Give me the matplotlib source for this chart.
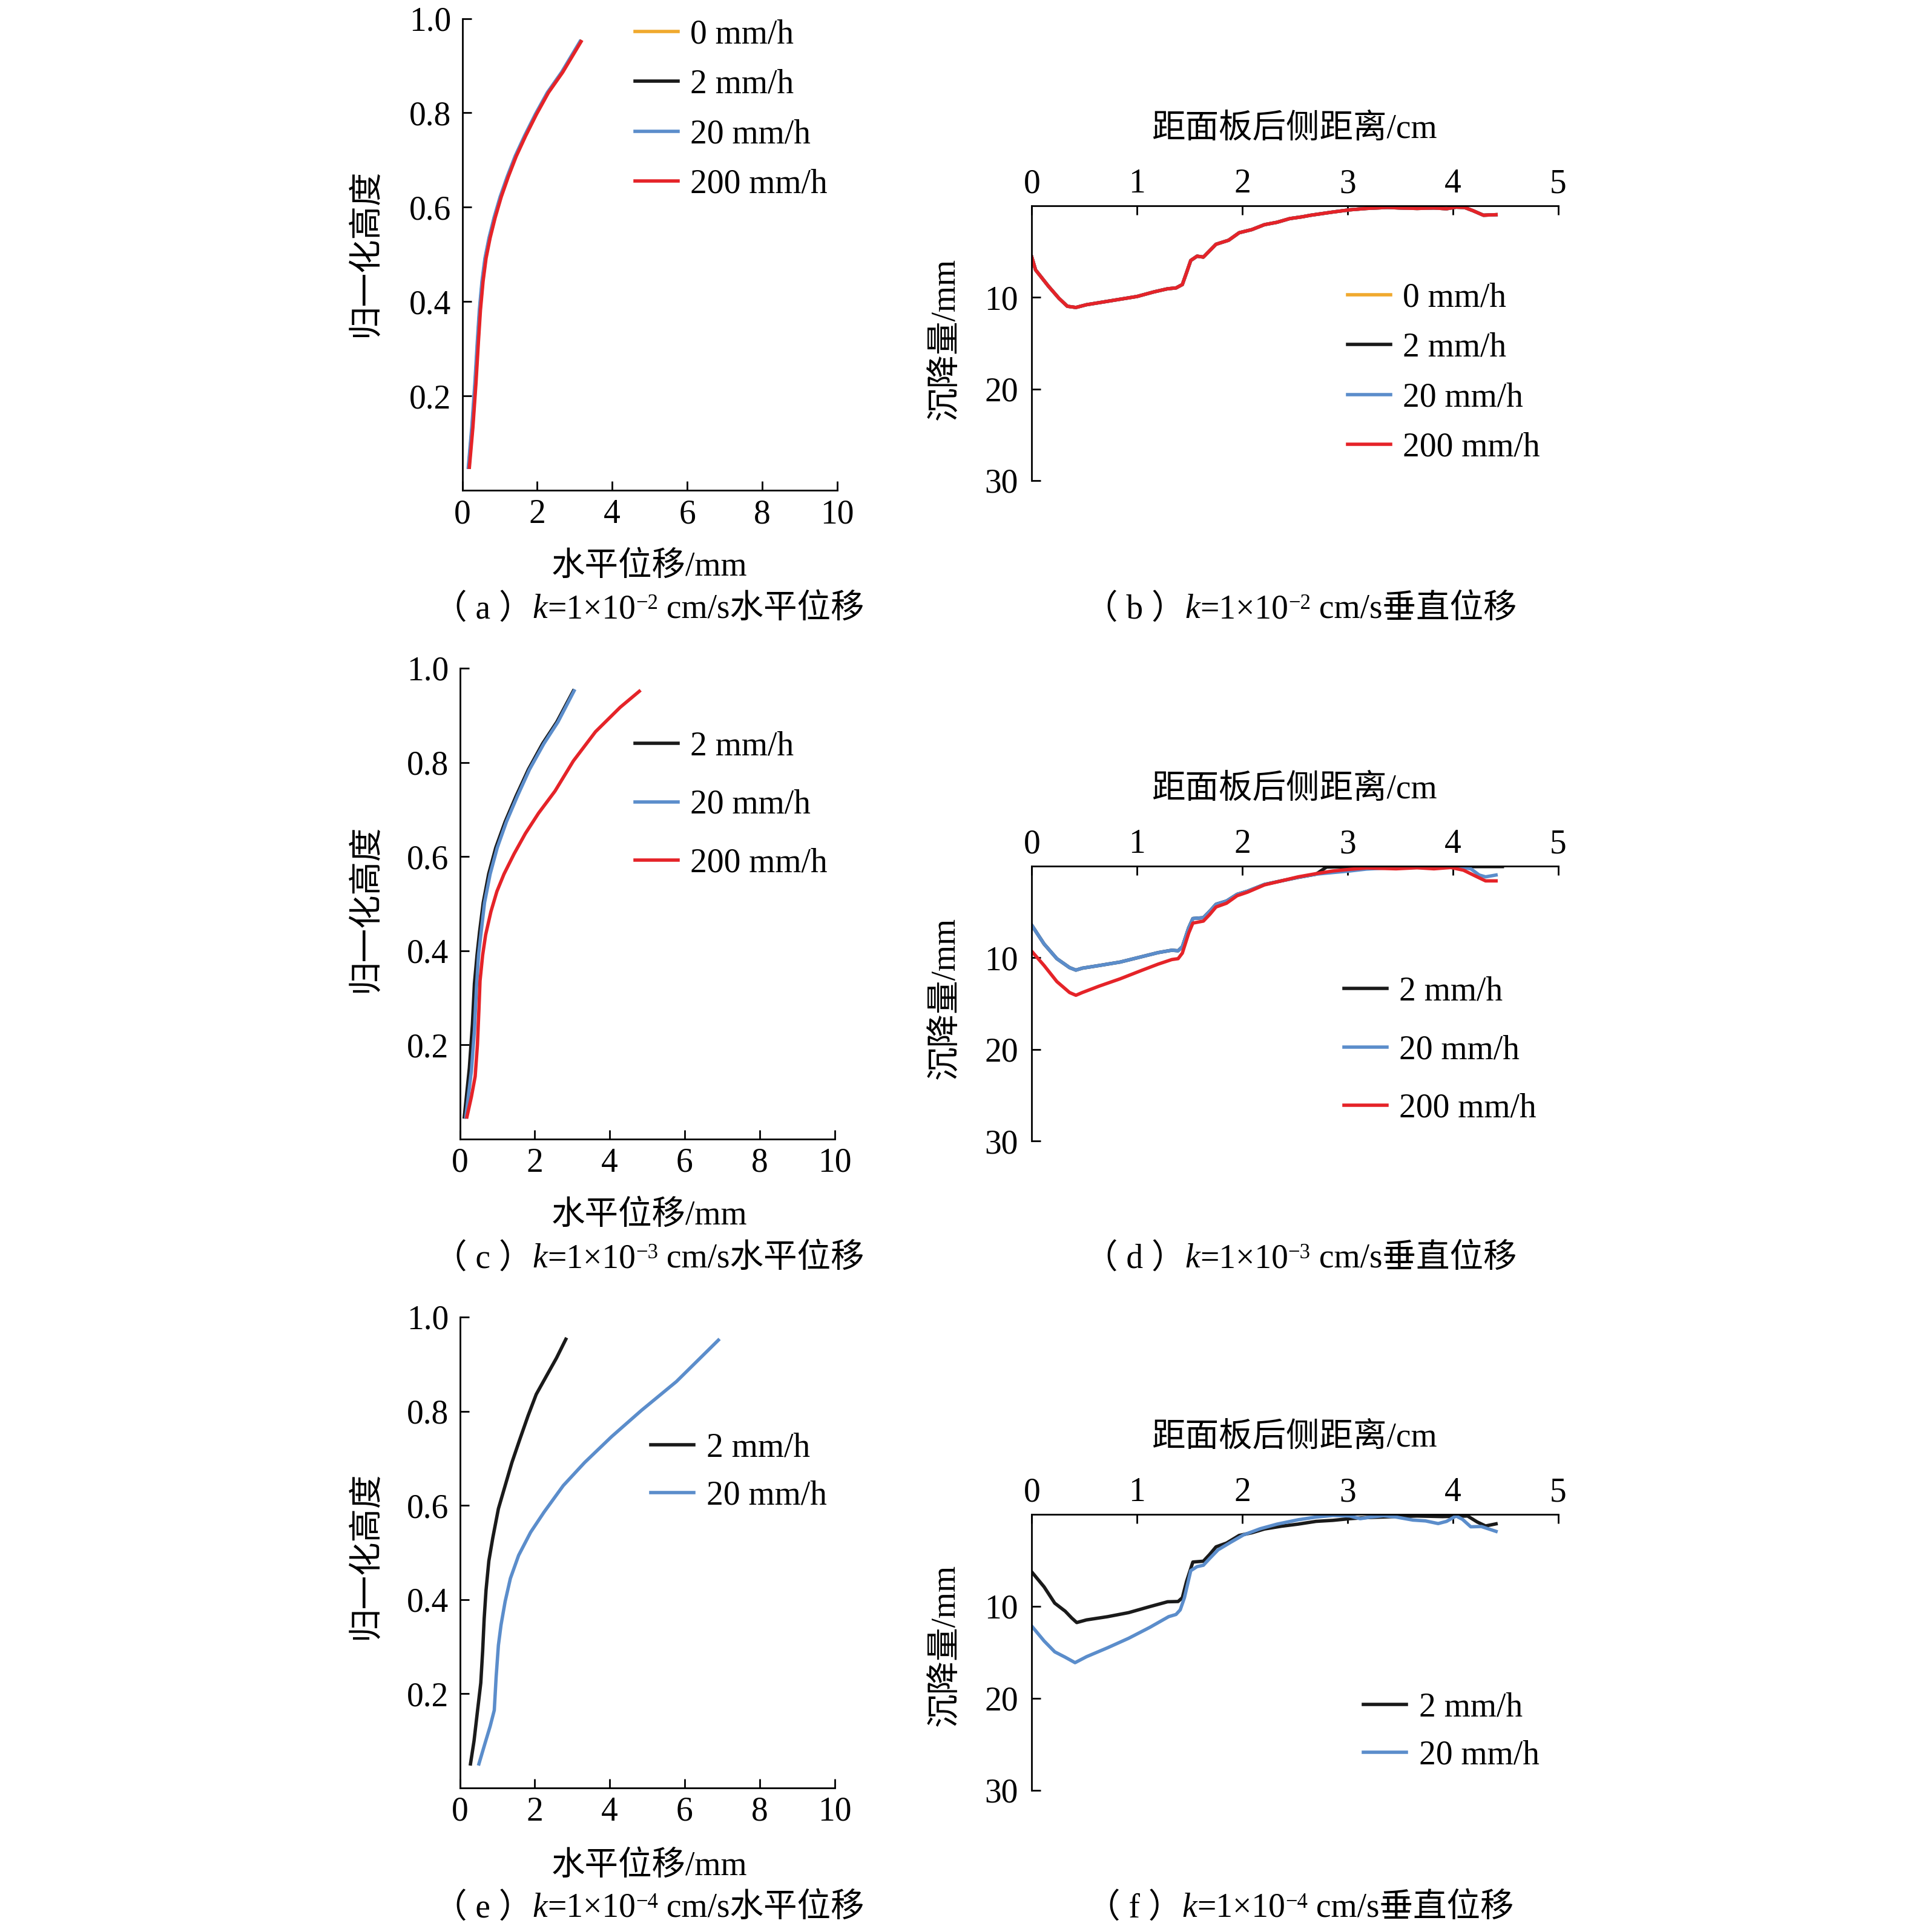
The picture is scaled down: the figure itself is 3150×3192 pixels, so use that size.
import matplotlib
matplotlib.use('Agg')
import matplotlib.pyplot as plt
from matplotlib.offsetbox import TextArea, HPacker, AnnotationBbox

FONTS = ['Liberation Serif', 'Noto Sans CJK SC', 'DejaVu Serif']
plt.rcParams['font.family'] = FONTS
plt.rcParams['font.size'] = 40

# ---- data: horizontal displacement (mm) vs normalised height ----
a_h = [0.049, 0.135, 0.228, 0.314, 0.382, 0.443, 0.492, 0.535, 0.578, 0.622, 0.665, 0.708,
       0.751, 0.797, 0.843, 0.886, 0.951]
a_x_200 = [0.19, 0.285, 0.366, 0.43, 0.485, 0.555, 0.635, 0.743, 0.878, 1.04, 1.23, 1.44,
           1.69, 1.98, 2.30, 2.68, 3.17]
a_x_20 = [0.16, 0.255, 0.336, 0.40, 0.455, 0.525, 0.605, 0.713, 0.848, 1.01, 1.20, 1.41,
          1.66, 1.95, 2.27, 2.65, 3.14]
a_x_2 = [0.17, 0.265, 0.346, 0.41, 0.465, 0.535, 0.615, 0.723, 0.858, 1.02, 1.21, 1.42,
         1.67, 1.96, 2.28, 2.66, 3.15]
a_x_0 = [0.18, 0.275, 0.356, 0.42, 0.475, 0.545, 0.625, 0.733, 0.868, 1.03, 1.22, 1.43,
         1.68, 1.97, 2.29, 2.67, 3.16]

c_h_2 = [0.047, 0.151, 0.244, 0.33, 0.391, 0.44, 0.502, 0.563, 0.619, 0.674, 0.729, 0.785,
         0.84, 0.886, 0.952]
c_x_2 = [0.12, 0.255, 0.337, 0.39, 0.46, 0.527, 0.625, 0.77, 0.96, 1.21, 1.505, 1.83,
         2.21, 2.59, 3.03]
c_h_20 = [0.047, 0.145, 0.231, 0.323, 0.391, 0.44, 0.502, 0.563, 0.619, 0.674, 0.729, 0.785,
          0.84, 0.886, 0.952]
c_x_20 = [0.16, 0.31, 0.39, 0.445, 0.50, 0.57, 0.66, 0.81, 1.0, 1.245, 1.54, 1.86,
          2.245, 2.62, 3.05]
c_h_200 = [0.047, 0.09, 0.133, 0.20, 0.274, 0.336, 0.391, 0.434, 0.483, 0.526, 0.563, 0.606,
           0.649, 0.692, 0.739, 0.803, 0.865, 0.917, 0.951]
c_x_200 = [0.19, 0.31, 0.41, 0.47, 0.51, 0.54, 0.61, 0.69, 0.83, 0.99, 1.18, 1.45,
           1.75, 2.10, 2.54, 3.03, 3.62, 4.28, 4.79]

e_h_2 = [0.051, 0.10, 0.162, 0.223, 0.291, 0.359, 0.42, 0.482, 0.531, 0.593, 0.642, 0.691,
         0.74, 0.79, 0.836, 0.876, 0.913, 0.953]
e_x_2 = [0.285, 0.38, 0.47, 0.56, 0.61, 0.65, 0.70, 0.775, 0.88, 1.03, 1.21, 1.39,
         1.60, 1.82, 2.04, 2.32, 2.58, 2.83]
e_h_20 = [0.051, 0.094, 0.131, 0.165, 0.236, 0.303, 0.346, 0.396, 0.445, 0.494, 0.543, 0.586,
          0.642, 0.691, 0.746, 0.802, 0.863, 0.951]
e_x_20 = [0.51, 0.67, 0.81, 0.92, 0.97, 1.03, 1.10, 1.21, 1.35, 1.57, 1.89, 2.25,
          2.76, 3.33, 4.05, 4.85, 5.78, 6.90]

# ---- data: distance behind panel (cm) vs settlement (mm) ----
b_d = [0, 0.036, 0.157, 0.258, 0.338, 0.419, 0.52, 0.68, 0.84, 1.0, 1.16, 1.29, 1.37, 1.43,
       1.47, 1.51, 1.57, 1.63, 1.69, 1.75, 1.87, 1.97, 2.09, 2.21, 2.33, 2.45, 2.57, 2.65,
       2.86, 3.02, 3.18, 3.38, 3.5, 3.66, 3.82, 3.94, 4.03, 4.11, 4.19, 4.29, 4.41]
b_s_200 = [5.6, 7.0, 8.76, 10.1, 10.97, 11.1, 10.8, 10.5, 10.2, 9.9, 9.4, 9.06, 8.97, 8.6,
           7.3, 5.97, 5.5, 5.6, 4.9, 4.2, 3.76, 2.94, 2.6, 2.06, 1.8, 1.4, 1.2, 1.03,
           0.68, 0.44, 0.29, 0.18, 0.24, 0.29, 0.24, 0.32, 0.15, 0.18, 0.53, 1.03, 0.97]
b_s_0 = list(b_s_200)
b_s_2 = list(b_s_200)
b_s_20 = list(b_s_200)

d_d_20 = [0, 0.117, 0.238, 0.359, 0.419, 0.48, 0.64, 0.84, 1.04, 1.2, 1.33, 1.39, 1.43, 1.49,
          1.53, 1.63, 1.69, 1.75, 1.85, 1.95, 2.05, 2.21, 2.37, 2.53, 2.7, 2.86, 3.02, 3.18,
          3.46, 3.66, 3.9, 4.07, 4.17, 4.25, 4.31, 4.41]
d_s_20 = [6.45, 8.5, 10.1, 11.08, 11.35, 11.14, 10.85, 10.47, 9.9, 9.44, 9.18, 9.24, 8.8, 6.74,
          5.72, 5.63, 4.93, 4.16, 3.81, 3.08, 2.73, 2.0, 1.61, 1.23, 0.88, 0.70, 0.53, 0.32,
          0.15, 0.06, 0.15, 0.12, 0.29, 0.97, 1.17, 0.97]
d_d_2 = [0, 0.117, 0.238, 0.359, 0.419, 0.48, 0.64, 0.84, 1.04, 1.2, 1.33, 1.39, 1.43, 1.49,
         1.53, 1.63, 1.69, 1.75, 1.85, 1.95, 2.05, 2.21, 2.37, 2.53, 2.7, 2.8, 3.1, 3.4,
         3.7, 4.0, 4.2, 4.47]
d_s_2 = [6.45, 8.5, 10.1, 11.08, 11.35, 11.14, 10.85, 10.47, 9.9, 9.44, 9.18, 9.24, 8.8, 6.74,
         5.72, 5.63, 4.93, 4.16, 3.81, 3.08, 2.73, 2.0, 1.61, 1.23, 0.88, 0.1, 0.06, 0.05,
         0.05, 0.05, 0.05, 0.05]
d_d_200 = [0, 0.117, 0.238, 0.359, 0.419, 0.48, 0.64, 0.84, 1.04, 1.2, 1.33, 1.39, 1.43, 1.49,
           1.53, 1.63, 1.69, 1.75, 1.85, 1.95, 2.05, 2.21, 2.37, 2.53, 2.7, 2.86, 3.02, 3.18,
           3.46, 3.66, 3.82, 3.98, 4.1, 4.23, 4.31, 4.41]
d_s_200 = [9.3, 10.85, 12.6, 13.8, 14.1, 13.8, 13.1, 12.3, 11.4, 10.7, 10.2, 10.1, 9.5, 7.33,
           6.22, 6.0, 5.28, 4.46, 4.05, 3.23, 2.84, 2.05, 1.61, 1.17, 0.82, 0.53, 0.35, 0.2,
           0.29, 0.18, 0.29, 0.15, 0.44, 1.17, 1.61, 1.61]

f_d_2 = [0, 0.117, 0.218, 0.318, 0.379, 0.427, 0.52, 0.72, 0.92, 1.12, 1.29, 1.39, 1.43, 1.47,
         1.53, 1.63, 1.69, 1.75, 1.85, 1.97, 2.09, 2.21, 2.37, 2.53, 2.7, 2.86, 3.02, 3.18,
         3.46, 3.66, 3.9, 4.14, 4.23, 4.31, 4.41]
f_s_2 = [6.26, 7.88, 9.65, 10.53, 11.26, 11.76, 11.47, 11.12, 10.68, 10.03, 9.5, 9.47, 9.06, 7.29,
         5.18, 5.09, 4.35, 3.53, 3.12, 2.29, 2.0, 1.59, 1.29, 1.06, 0.76, 0.65, 0.47, 0.35,
         0.24, 0.18, 0.24, 0.18, 0.82, 1.26, 1.03]
f_d_20 = [0, 0.117, 0.218, 0.318, 0.411, 0.52, 0.72, 0.92, 1.12, 1.3, 1.37, 1.41, 1.45, 1.51,
          1.57, 1.63, 1.69, 1.77, 1.89, 2.01, 2.17, 2.33, 2.53, 2.7, 2.86, 3.02, 3.12, 3.22,
          3.34, 3.46, 3.62, 3.74, 3.86, 3.94, 4.03, 4.09, 4.17, 4.27, 4.41]
f_s_20 = [12.15, 13.76, 14.94, 15.53, 16.12, 15.47, 14.5, 13.47, 12.29, 11.12, 10.88, 10.38, 9.06, 6.12,
          5.68, 5.53, 4.79, 3.85, 3.03, 2.24, 1.56, 1.06, 0.59, 0.29, 0.12, 0.18, 0.47, 0.29,
          0.15, 0.29, 0.62, 0.71, 1.0, 0.76, 0.18, 0.53, 1.35, 1.32, 1.85]

# ---- ticks / labels ----
h_ticks = [0.2, 0.4, 0.6, 0.8, 1.0]
h_ticklabels = ['0.2', '0.4', '0.6', '0.8', '1.0']
x_ticks = [0, 2, 4, 6, 8, 10]
d_ticks = [0, 1, 2, 3, 4, 5]
s_ticks = [10, 20, 30]

lab_h = '水平位移/mm'
lab_norm = '归一化高度'
lab_dist = '距面板后侧距离/cm'
lab_settle = '沉降量/mm'
cap_letters = ['a', 'b', 'c', 'd', 'e', 'f']
cap_exps = ['−2', '−2', '−3', '−3', '−4', '−4']
cap_tails = ['水平位移', '垂直位移'] * 3

C0 = '#F0A92E'
C2 = '#1A1A1A'
C20 = '#5B8DCB'
C200 = '#E52328'

W, H = 3150, 3192
LW = 4.0


def add_ax(fig, l, t, r, b):
    return fig.add_axes([l / W, 1 - b / H, (r - l) / W, (b - t) / H])


def ftext(fig, x, y, s, **kw):
    fig.text(x / W, 1 - y / H, s, ha='center', va='center', fontsize=40, **kw)


def caption(fig, x, y, letter, exp, tail):
    tp = dict(fontsize=40, family=FONTS)
    sup = TextArea(exp, textprops=dict(fontsize=25, family=FONTS))
    sup_box = HPacker(children=[sup], pad=0, sep=0)
    parts = [TextArea(f'（ {letter} ）', textprops=tp),
             TextArea('k', textprops=dict(tp, style='italic')),
             TextArea('=1×10', textprops=tp),
             sup_box,
             TextArea(f' cm/s{tail}', textprops=tp)]
    box = HPacker(children=parts, align='top', pad=0, sep=0)
    ab = AnnotationBbox(box, (x / W, 1 - y / H), xycoords='figure fraction',
                        frameon=False, box_alignment=(0.5, 0.5), pad=0)
    fig.add_artist(ab)


def style_left(ax):
    ax.set_xlim(0, 10)
    ax.set_ylim(0, 1)
    ax.set_xticks(x_ticks)
    ax.set_yticks(h_ticks)
    ax.set_yticklabels(h_ticklabels)
    ax.spines['top'].set_visible(False)
    ax.spines['right'].set_visible(False)
    for s in ['left', 'bottom']:
        ax.spines[s].set_linewidth(2.0)
    ax.tick_params(direction='in', length=10.5, width=2.0, labelsize=40)
    ax.tick_params(axis='x', pad=10)
    ax.tick_params(axis='y', pad=13)


def style_right(ax):
    ax.set_xlim(0, 5)
    ax.set_ylim(30, 0)
    ax.xaxis.tick_top()
    ax.set_xticks(d_ticks)
    ax.set_yticks(s_ticks)
    ax.spines['bottom'].set_visible(False)
    ax.spines['right'].set_visible(False)
    for s in ['left', 'top']:
        ax.spines[s].set_linewidth(2.0)
    ax.tick_params(direction='in', length=10.5, width=2.0, labelsize=40)
    ax.tick_params(axis='x', pad=7)
    ax.tick_params(axis='y', pad=16)


def legend(ax, x, y, spacing):
    ax.legend(loc='center left', bbox_to_anchor=(x / W, 1 - y / H),
              bbox_transform=ax.figure.transFigure, frameon=False, fontsize=40,
              handlelength=1.28, handletextpad=0.37, labelspacing=spacing,
              borderpad=0, borderaxespad=0)


def main():
    fig = plt.figure(figsize=(W / 100, H / 100), dpi=100)

    # (a)
    ax = add_ax(fig, 763.6, 30.5, 1382.6, 810.2)
    ax.plot(a_x_0, a_h, color=C0, lw=LW, label='0 mm/h')
    ax.plot(a_x_2, a_h, color=C2, lw=LW, label='2 mm/h')
    ax.plot(a_x_20, a_h, color=C20, lw=LW, label='20 mm/h')
    ax.plot(a_x_200, a_h, color=C200, lw=LW, label='200 mm/h')
    style_left(ax)
    legend(ax, 1048.6, 181, 0.55)

    # (b)
    ax = add_ax(fig, 1704.3, 340, 2573.8, 794)
    ax.plot(b_d, b_s_0, color=C0, lw=LW, label='0 mm/h')
    ax.plot(b_d, b_s_2, color=C2, lw=LW, label='2 mm/h')
    ax.plot(b_d, b_s_20, color=C20, lw=LW, label='20 mm/h')
    ax.plot(b_d, b_s_200, color=C200, lw=LW, label='200 mm/h')
    style_right(ax)
    legend(ax, 2225.6, 616, 0.55)

    # (c)
    ax = add_ax(fig, 759.5, 1104, 1378.5, 1882)
    ax.plot(c_x_2, c_h_2, color=C2, lw=LW, label='2 mm/h')
    ax.plot(c_x_20, c_h_20, color=C20, lw=LW, label='20 mm/h')
    ax.plot(c_x_200, c_h_200, color=C200, lw=LW, label='200 mm/h')
    style_left(ax)
    legend(ax, 1048.6, 1330, 0.8)

    # (d)
    ax = add_ax(fig, 1704.3, 1431, 2573.8, 1885)
    ax.plot(d_d_2, d_s_2, color=C2, lw=LW, label='2 mm/h')
    ax.plot(d_d_20, d_s_20, color=C20, lw=LW, label='20 mm/h')
    ax.plot(d_d_200, d_s_200, color=C200, lw=LW, label='200 mm/h')
    style_right(ax)
    legend(ax, 2219.5, 1735, 0.8)

    # (e)
    ax = add_ax(fig, 759.5, 2176, 1378.5, 2954)
    ax.plot(e_x_2, e_h_2, color=C2, lw=LW, label='2 mm/h')
    ax.plot(e_x_20, e_h_20, color=C20, lw=LW, label='20 mm/h')
    style_left(ax)
    legend(ax, 1075, 2432, 0.5)

    # (f)
    ax = add_ax(fig, 1704.3, 2502, 2573.8, 2958)
    ax.plot(f_d_2, f_s_2, color=C2, lw=LW, label='2 mm/h')
    ax.plot(f_d_20, f_s_20, color=C20, lw=LW, label='20 mm/h')
    style_right(ax)
    legend(ax, 2252, 2861, 0.5)

    # axis labels
    for yx, yc in [(936.4, 417), (2009, 1500), (3084, 2569)]:
        ftext(fig, 1073, yx, lab_h)
        ftext(fig, 605, yc, lab_norm, rotation=90)
    for yt, yc in [(214, 560), (1305, 1649), (2376, 2718)]:
        ftext(fig, 2138, yt, lab_dist)
        ftext(fig, 1562, yc, lab_settle, rotation=90)

    # captions
    for i, yc in enumerate([1007.7, 2080.5, 3153]):
        for j, xc in enumerate([1072, 2148]):
            k = 2 * i + j
            caption(fig, xc, yc, cap_letters[k], cap_exps[k], cap_tails[k])

    fig.savefig('out.png', dpi=100)


if __name__ == '__main__':
    main()
